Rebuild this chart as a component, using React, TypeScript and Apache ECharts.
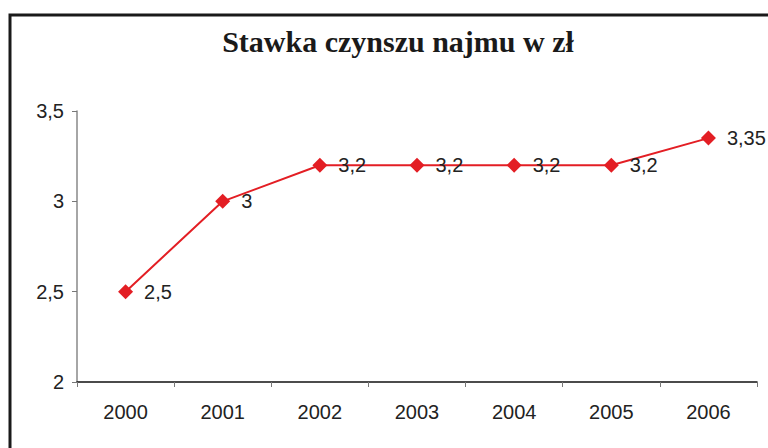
import React, { useEffect, useRef } from "react";
import * as echarts from "echarts";

const categories = ["2000", "2001", "2002", "2003", "2004", "2005", "2006"];
const values = [2.5, 3, 3.2, 3.2, 3.2, 3.2, 3.35];
const yTicks = { min: 2, max: 3.5, interval: 0.5 };
const title = "Stawka czynszu najmu w zł";

const fmt = (v: number) => String(v).replace(".", ",");

export default function App() {
  const ref = useRef<HTMLDivElement>(null);
  useEffect(() => {
    if (!ref.current) return;
    const chart = echarts.init(ref.current, null, { renderer: "svg" });
    chart.setOption({
      animation: false,
      backgroundColor: "#ffffff",
      title: {
        text: title,
        left: 393,
        textAlign: "center",
        top: 21,
        textStyle: {
          fontFamily: "Liberation Serif",
          fontWeight: "bold",
          fontSize: 30,
          color: "#1a1a1a",
        },
      },
      graphic: [
        {
          type: "rect",
          shape: { x: 10, y: 15, width: 775, height: 445 },
          style: { fill: "none", stroke: "#1a1a1a", lineWidth: 3 },
          silent: true,
        },
      ],
      grid: { left: 77, right: 11, top: 111, bottom: 66 },
      xAxis: {
        type: "category",
        data: categories,
        boundaryGap: true,
        axisLine: { lineStyle: { color: "#111", width: 1.5 } },
        axisTick: { show: true, length: 5, lineStyle: { color: "#777" } },
        axisLabel: {
          color: "#222",
          fontFamily: "Liberation Sans",
          fontSize: 20,
          margin: 20,
        },
        splitLine: { show: false },
      },
      yAxis: {
        type: "value",
        min: yTicks.min,
        max: yTicks.max,
        interval: yTicks.interval,
        axisLine: { show: true, lineStyle: { color: "#888", width: 1.5 } },
        axisTick: { show: true, length: 5, lineStyle: { color: "#777" } },
        axisLabel: {
          color: "#222",
          fontFamily: "Liberation Sans",
          fontSize: 20,
          margin: 13,
          formatter: (v: number) => fmt(v),
        },
        splitLine: { show: false },
      },
      series: [
        {
          type: "line",
          data: values,
          symbol: "diamond",
          symbolSize: 15,
          itemStyle: { color: "#e31e24" },
          lineStyle: { color: "#e31e24", width: 2 },
          label: {
            show: true,
            position: "right",
            distance: 11,
            color: "#222",
            fontFamily: "Liberation Sans",
            fontSize: 20,
            formatter: (p: any) => fmt(p.value),
          },
        },
      ],
    });
    return () => chart.dispose();
  }, []);
  return (
    <div
      ref={ref}
      style={{ position: "absolute", left: 0, top: 0, width: 768, height: 448 }}
    />
  );
}
